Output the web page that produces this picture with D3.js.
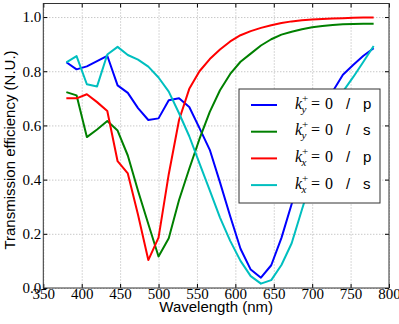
<!DOCTYPE html>
<html>
<head>
<meta charset="utf-8">
<script src="https://cdn.jsdelivr.net/npm/d3@7"></script>
<style>
	body { margin: 0; background: #fff; }
	.tick text { font-family: "Liberation Serif", serif; font-size: 15px; fill: #000; }
	.grid line { stroke: #b0b0b0; stroke-dasharray: 1,2; }
	.grid .domain { display: none; }
	.label { font-family: "Liberation Sans", Arial, sans-serif; font-size: 15px; fill: #000; }
</style>
</head>
<body>
<div id="chart"></div>
<script>
// wavelength samples (nm)
let wavelengths = [380, 393.3, 406.7, 420, 433.3, 446.7, 460, 473.3, 486.7, 500, 513.3, 526.7, 540, 553.3, 566.7, 580, 593.3, 606.7, 620, 633.3, 646.7, 660, 673.3, 686.7, 700, 713.3, 726.7, 740, 753.3, 766.7, 780];

let ky_p = [0.833, 0.807, 0.818, 0.837, 0.857, 0.748, 0.72, 0.664, 0.62, 0.626, 0.693, 0.70, 0.668, 0.59, 0.51, 0.39, 0.265, 0.145, 0.068, 0.038, 0.084, 0.185, 0.31, 0.43, 0.54, 0.645, 0.725, 0.787, 0.823, 0.857, 0.885];
let ky_s = [0.723, 0.711, 0.557, 0.585, 0.616, 0.581, 0.489, 0.359, 0.236, 0.116, 0.184, 0.325, 0.44, 0.55, 0.65, 0.73, 0.79, 0.835, 0.865, 0.895, 0.918, 0.935, 0.946, 0.955, 0.962, 0.967, 0.971, 0.973, 0.974, 0.975, 0.975];
let kx_p = [0.70, 0.70, 0.715, 0.686, 0.653, 0.468, 0.423, 0.27, 0.103, 0.186, 0.42, 0.62, 0.735, 0.80, 0.845, 0.88, 0.91, 0.933, 0.948, 0.96, 0.97, 0.978, 0.984, 0.988, 0.991, 0.993, 0.995, 0.996, 0.997, 0.998, 0.998];
let kx_s = [0.833, 0.856, 0.752, 0.744, 0.862, 0.89, 0.86, 0.843, 0.817, 0.777, 0.725, 0.645, 0.56, 0.46, 0.36, 0.26, 0.174, 0.10, 0.044, 0.016, 0.029, 0.085, 0.165, 0.29, 0.41, 0.53, 0.64, 0.725, 0.778, 0.835, 0.893];

let x_ticks = [350, 400, 450, 500, 550, 600, 650, 700, 750, 800];
let y_ticks = [0.0, 0.2, 0.4, 0.6, 0.8, 1.0];

let series = [
	{sub: "y", pol: "p", color: "#0000ff", values: ky_p},
	{sub: "y", pol: "s", color: "#008000", values: ky_s},
	{sub: "x", pol: "p", color: "#ff0000", values: kx_p},
	{sub: "x", pol: "s", color: "#00bfbf", values: kx_s}
];

function chart() {
	let window_w = 399, window_h = 324;
	let margin = {top: 3.5, right: 10, bottom: 36, left: 43.3},
		width = window_w - margin.left - margin.right,
		height = window_h - margin.top - margin.bottom;

	let svg = d3.select("#chart")
		.append("svg")
		.attr("width", window_w)
		.attr("height", window_h);

	let plot = svg.append("g")
		.attr("transform", "translate(" + margin.left + "," + margin.top + ")");

	let x = d3.scaleLinear()
		.domain([350, 800])
		.range([0, width]);

	let y = d3.scaleLinear()
		.domain([0, 1.05])
		.range([height, 0]);

	// grid
	plot.append("g")
		.attr("class", "grid")
		.call(d3.axisBottom(x).tickValues(x_ticks).tickSize(height).tickFormat(""));
	plot.append("g")
		.attr("class", "grid")
		.call(d3.axisLeft(y).tickValues(y_ticks).tickSize(-width).tickFormat(""));

	let line = d3.line()
		.x(function(d){ return x(d[0]) })
		.y(function(d){ return y(d[1]) });

	series.forEach(function(s){
		plot.append("path")
			.datum(wavelengths.map(function(w, i){ return [w, s.values[i]] }))
			.attr("d", line)
			.attr("fill", "none")
			.attr("stroke", s.color)
			.attr("stroke-width", 2)
			.attr("stroke-linejoin", "round");
	});

	// axes, ticks pointing inward
	let x_axis = plot.append("g")
		.attr("transform", "translate(0," + height + ")")
		.call(d3.axisBottom(x).tickValues(x_ticks).tickSize(-4).tickPadding(0).tickFormat(d3.format("d")));
	let y_axis = plot.append("g")
		.call(d3.axisLeft(y).tickValues(y_ticks).tickSize(-4).tickPadding(2).tickFormat(d3.format(".1f")));
	plot.append("g")
		.call(d3.axisTop(x).tickValues(x_ticks).tickSize(-4).tickFormat(""));
	plot.append("g")
		.attr("transform", "translate(" + width + ",0)")
		.call(d3.axisRight(y).tickValues(y_ticks).tickSize(-4).tickFormat(""));
	plot.selectAll(".domain").attr("stroke", "none");
	x_axis.selectAll("text").attr("dy", "0.72em");

	plot.append("rect")
		.attr("width", width)
		.attr("height", height)
		.attr("fill", "none")
		.attr("stroke", "#333")
		.attr("stroke-width", 1);

	// legend
	let legend = plot.append("g")
		.attr("transform", "translate(" + (239 - margin.left) + "," + (89 - margin.top) + ")");
	legend.append("rect")
		.attr("width", 141)
		.attr("height", 114)
		.attr("fill", "#fff")
		.attr("stroke", "#333")
		.attr("stroke-width", 1);

	let rows = legend.selectAll(".row")
		.data(series)
		.enter()
		.append("g")
		.attr("transform", function(d, i){ return "translate(0," + (16 + i * 26.7) + ")" });

	rows.append("line")
		.attr("x1", 12).attr("x2", 38)
		.attr("stroke", function(d){ return d.color })
		.attr("stroke-width", 2);

	let t = rows.append("text")
		.attr("y", 3.5)
		.attr("font-family", "'Liberation Serif', serif")
		.attr("font-size", 16);
	t.append("tspan").attr("x", 56).attr("font-style", "italic").text("k");
	t.append("tspan").attr("font-size", 11).attr("dy", -7).text("+");
	t.append("tspan").attr("x", 62.5).attr("dy", 11).attr("font-size", 11).attr("font-style", "italic")
		.text(function(d){ return d.sub });
	t.append("tspan").attr("x", 72).attr("dy", -4).text("=");
	t.append("tspan").attr("x", 86).text("0");
	t.append("tspan").attr("x", 107).attr("font-family", "'Liberation Sans', Arial, sans-serif").attr("font-size", 15).text("/");
	t.append("tspan").attr("x", 124).attr("font-family", "'Liberation Sans', Arial, sans-serif").attr("font-size", 15)
		.text(function(d){ return d.pol });

	// axis labels
	svg.append("text")
		.attr("class", "label")
		.attr("text-anchor", "middle")
		.attr("x", margin.left + width / 2)
		.attr("y", 311.5)
		.text("Wavelength (nm)");
	svg.append("text")
		.attr("class", "label")
		.attr("text-anchor", "middle")
		.attr("transform", "translate(14.5,150) rotate(-90)")
		.text("Transmission efficiency (N.U.)");
}

chart();
</script>
</body>
</html>
